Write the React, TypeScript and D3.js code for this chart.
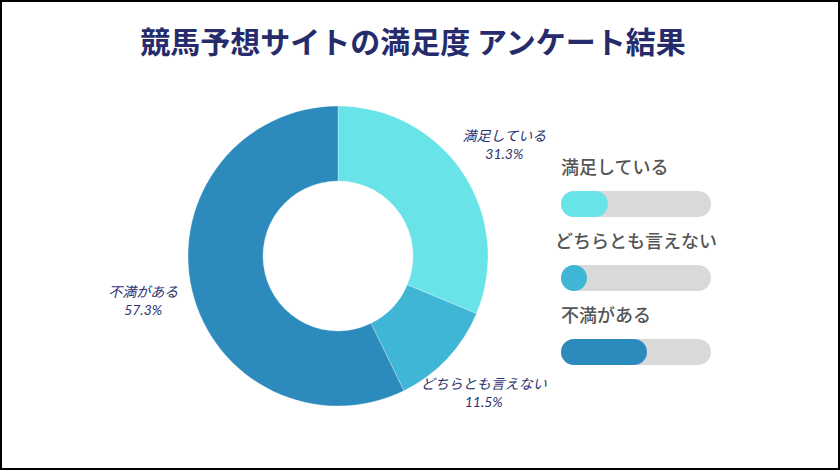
import * as d3 from "d3";
import { useEffect, useRef } from "react";

const WIDTH = 840;
const HEIGHT = 470;

const TITLE = "競馬予想サイトの満足度 アンケート結果";
const categories = ["満足している", "どちらとも言えない", "不満がある"];
const values = [31.3, 11.5, 57.3];
const COLORS = ["#68e3e8", "#40b6d6", "#2c8bbc"];

const PIE = { cx: 338, cy: 256, outer: 150, inner: 75, label: 200 };
const LEGEND = { x: 561, barW: 150, barH: 26, top: 168, step: 74 };

const App = () => {
  const svgRef = useRef<SVGSVGElement>(null);

  useEffect(() => {
    document.body.style.margin = "0";
    if (!svgRef.current) return;
    const svg = d3.select(svgRef.current);
    svg.selectAll("*").remove();

    svg
      .append("rect")
      .attr("width", WIDTH)
      .attr("height", HEIGHT)
      .attr("fill", "#fff")
      .attr("stroke", "#000")
      .attr("stroke-width", 4);

    svg
      .append("text")
      .attr("x", 413)
      .attr("y", 53)
      .attr("text-anchor", "middle")
      .attr("font-family", "'Noto Sans CJK JP', sans-serif")
      .attr("font-weight", 700)
      .attr("font-size", 30)
      .attr("fill", "#262b6b")
      .text(TITLE);

    const data = categories.map((c, i) => ({ name: c, value: values[i], color: COLORS[i] }));
    const pie = d3
      .pie<(typeof data)[number]>()
      .sort(null)
      .value((d) => d.value);
    const arcs = pie(data);
    const arc = d3
      .arc<d3.PieArcDatum<(typeof data)[number]>>()
      .innerRadius(PIE.inner)
      .outerRadius(PIE.outer);
    const labelArc = d3
      .arc<d3.PieArcDatum<(typeof data)[number]>>()
      .innerRadius(PIE.label)
      .outerRadius(PIE.label);

    const g = svg.append("g").attr("transform", `translate(${PIE.cx},${PIE.cy})`);
    g.selectAll("path")
      .data(arcs)
      .join("path")
      .attr("d", arc)
      .attr("fill", (d) => d.data.color)
      .attr("stroke", "#ffffff")
      .attr("stroke-width", 0.3);

    // two separate lines per slice label: name, then percent
    arcs.forEach((d) => {
      const [lx, ly] = labelArc.centroid(d);
      g.append("text")
        .attr("x", lx)
        .attr("y", ly - 4)
        .attr("text-anchor", "middle")
        .attr("font-family", "'Noto Sans CJK JP', sans-serif")
        .attr("font-style", "italic")
        .attr("font-size", 14)
        .attr("fill", "#2d3271")
        .text(d.data.name);
      g.append("text")
        .attr("x", lx)
        .attr("y", ly + 14)
        .attr("text-anchor", "middle")
        .attr("font-family", "Lato, sans-serif")
        .attr("font-style", "italic")
        .attr("font-size", 14)
        .attr("fill", "#2d3271")
        .text(`${d.data.value.toFixed(1)}%`);
    });

    const xScale = d3.scaleLinear().domain([0, 100]).range([0, LEGEND.barW]);
    const leg = svg.append("g");
    data.forEach((d, i) => {
      const y = LEGEND.top + i * LEGEND.step;
      const t = leg
        .append("text")
        .attr("x", LEGEND.x)
        .attr("y", y)
        .attr("dy", "0.35em")
        .attr("font-family", "'Noto Sans CJK JP', sans-serif")
        .attr("font-weight", 500)
        .attr("font-size", 18)
        .attr("fill", "#555555")
        .text(d.name);
      const tw = (t.node() as SVGTextElement).getComputedTextLength();
      if (tw > LEGEND.barW) {
        t.attr("x", LEGEND.x + LEGEND.barW / 2).attr("text-anchor", "middle");
      }
      const by = y + 23;
      leg
        .append("rect")
        .attr("x", LEGEND.x)
        .attr("y", by)
        .attr("width", LEGEND.barW)
        .attr("height", LEGEND.barH)
        .attr("rx", LEGEND.barH / 2)
        .attr("fill", "#d9d9d9");
      leg
        .append("rect")
        .attr("x", LEGEND.x)
        .attr("y", by)
        .attr("width", Math.max(xScale(d.value), LEGEND.barH))
        .attr("height", LEGEND.barH)
        .attr("rx", LEGEND.barH / 2)
        .attr("fill", d.color);
    });
  }, []);

  return <svg ref={svgRef} width={WIDTH} height={HEIGHT} style={{ display: "block" }} />;
};

export default App;
